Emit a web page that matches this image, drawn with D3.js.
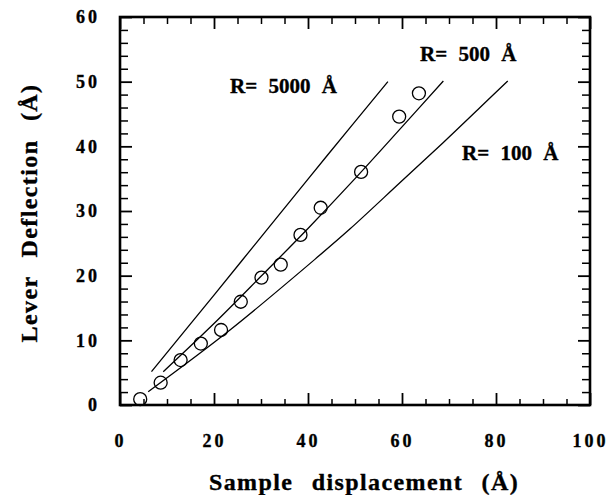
<!DOCTYPE html>
<html>
<head>
<meta charset="utf-8">
<script src="https://cdn.jsdelivr.net/npm/d3@7"></script>
<style>
  html, body { margin: 0; padding: 0; background: #fff; }
  svg { display: block; }
  text { font-family: "Liberation Serif", "Times New Roman", serif; font-weight: bold; fill: #000; }
</style>
</head>
<body>
<svg id="chart" width="611" height="495"></svg>
<script>
// ---- data ----
const dispX = [4.3, 8.65, 12.9, 17.2, 21.5, 25.7, 30.1, 34.2, 38.4, 42.7, 51.3, 59.4, 63.6];
const deflY = [0.9, 3.45, 6.95, 9.5, 11.6, 15.97, 19.7, 21.7, 26.3, 30.5, 36.05, 44.6, 48.2];

const r5000X = [6.7, 20.0, 31.2, 44.0, 57.0];
const r5000Y = [5.15, 17.0, 27.05, 38.5, 50.0];

const r500X = [9.2, 20.0, 30.0, 40.0, 50.0, 60.0, 68.8];
const r500Y = [5.15, 12.6, 19.9, 27.3, 35.0, 43.0, 50.1];

const r100X = [6.0, 23.4, 42.4, 48.9, 59.6, 68.8, 76.6, 82.5];
const r100Y = [2.06, 11.6, 23.1, 27.2, 34.4, 40.6, 46.0, 50.1];

const curveLabels = ["R= 5000 Å", "R= 500 Å", "R= 100 Å"];
const xMajorTicks = [0, 20, 40, 60, 80, 100];
const yMajorTicks = [0, 10, 20, 30, 40, 50, 60];
const xTitle = "Sample displacement (Å)";
const yTitle = "Lever Deflection (Å)";

// ---- layout ----
const svg = d3.select("#chart");
const L = 120, R = 590, T = 17, B = 405;
const x = d3.scaleLinear().domain([0, 100]).range([L, R]);
const y = d3.scaleLinear().domain([0, 60]).range([B, T]);

const xMinor = d3.range(0, 101, 5).filter(v => v % 20 !== 0);
const yMinor = d3.range(0, 61, 2).filter(v => v % 10 !== 0);

function styleAxis(g, w) {
  g.select(".domain").remove();
  g.selectAll(".tick line").attr("stroke", "#000").attr("stroke-width", w);
}
function styleLabels(g) {
  g.selectAll("text").attr("font-size", 18).attr("letter-spacing", 3)
    .attr("font-family", '"Liberation Serif", serif').attr("font-weight", "bold")
    .attr("fill", "#000").attr("stroke", "#000").attr("stroke-width", 0.35);
}

// bottom
svg.append("g").attr("transform", `translate(0,${B})`)
  .call(d3.axisBottom(x).tickValues(xMajorTicks).tickSize(-12).tickPadding(29).tickFormat(d3.format("d")))
  .call(g => { styleAxis(g, 1.8); styleLabels(g); });
svg.append("g").attr("transform", `translate(0,${B})`)
  .call(d3.axisBottom(x).tickValues(xMinor).tickSize(-6).tickFormat(""))
  .call(g => styleAxis(g, 1.5));
// top
svg.append("g").attr("transform", `translate(0,${T})`)
  .call(d3.axisTop(x).tickValues(xMajorTicks).tickSize(-12).tickFormat(""))
  .call(g => styleAxis(g, 1.8));
svg.append("g").attr("transform", `translate(0,${T})`)
  .call(d3.axisTop(x).tickValues(xMinor).tickSize(-7).tickFormat(""))
  .call(g => styleAxis(g, 1.5));
// left
svg.append("g").attr("transform", `translate(${L},0)`)
  .call(d3.axisLeft(y).tickValues(yMajorTicks).tickSize(-12).tickPadding(20).tickFormat(d3.format("d")))
  .call(g => { styleAxis(g, 1.8); styleLabels(g); });
svg.append("g").attr("transform", `translate(${L},0)`)
  .call(d3.axisLeft(y).tickValues(yMinor).tickSize(-8).tickFormat(""))
  .call(g => styleAxis(g, 1.5));
// right
svg.append("g").attr("transform", `translate(${R},0)`)
  .call(d3.axisRight(y).tickValues(yMajorTicks).tickSize(-12).tickFormat(""))
  .call(g => styleAxis(g, 1.8));
svg.append("g").attr("transform", `translate(${R},0)`)
  .call(d3.axisRight(y).tickValues(yMinor).tickSize(-8).tickFormat(""))
  .call(g => styleAxis(g, 1.5));

// frame
svg.append("rect").attr("x", L).attr("y", T).attr("width", R - L).attr("height", B - T)
  .attr("fill", "none").attr("stroke", "#000").attr("stroke-width", 2.6);

// curves
const line = d3.line().x(d => x(d[0])).y(d => y(d[1])).curve(d3.curveCatmullRom.alpha(0.5));
[[r5000X, r5000Y], [r500X, r500Y], [r100X, r100Y]].forEach(([xs, ys]) => {
  svg.append("path").datum(xs.map((v, i) => [v, ys[i]]))
    .attr("d", line).attr("fill", "none").attr("stroke", "#000").attr("stroke-width", 1.3);
});

// points
svg.append("g").selectAll("circle").data(dispX.map((v, i) => [v, deflY[i]])).join("circle")
  .attr("cx", d => x(d[0])).attr("cy", d => y(d[1])).attr("r", 6.5)
  .attr("fill", "none").attr("stroke", "#000").attr("stroke-width", 1.3);

// curve labels
const labelPos = [[230, 93], [420, 61], [462, 160]];
curveLabels.forEach((t, i) => {
  svg.append("text").attr("x", labelPos[i][0]).attr("y", labelPos[i][1])
    .attr("font-size", 21).attr("word-spacing", 6)
    .attr("stroke", "#000").attr("stroke-width", 0.35).text(t);
});

// titles
svg.append("text").attr("x", 364).attr("y", 490).attr("text-anchor", "middle")
  .attr("font-size", 24).attr("letter-spacing", 1.4).attr("word-spacing", 11)
  .attr("stroke", "#000").attr("stroke-width", 0.35).text(xTitle);
svg.append("text").attr("transform", `translate(37,213) rotate(-90)`).attr("text-anchor", "middle")
  .attr("font-size", 24).attr("letter-spacing", 1.4).attr("word-spacing", 11)
  .attr("stroke", "#000").attr("stroke-width", 0.35).text(yTitle);
</script>
</body>
</html>
